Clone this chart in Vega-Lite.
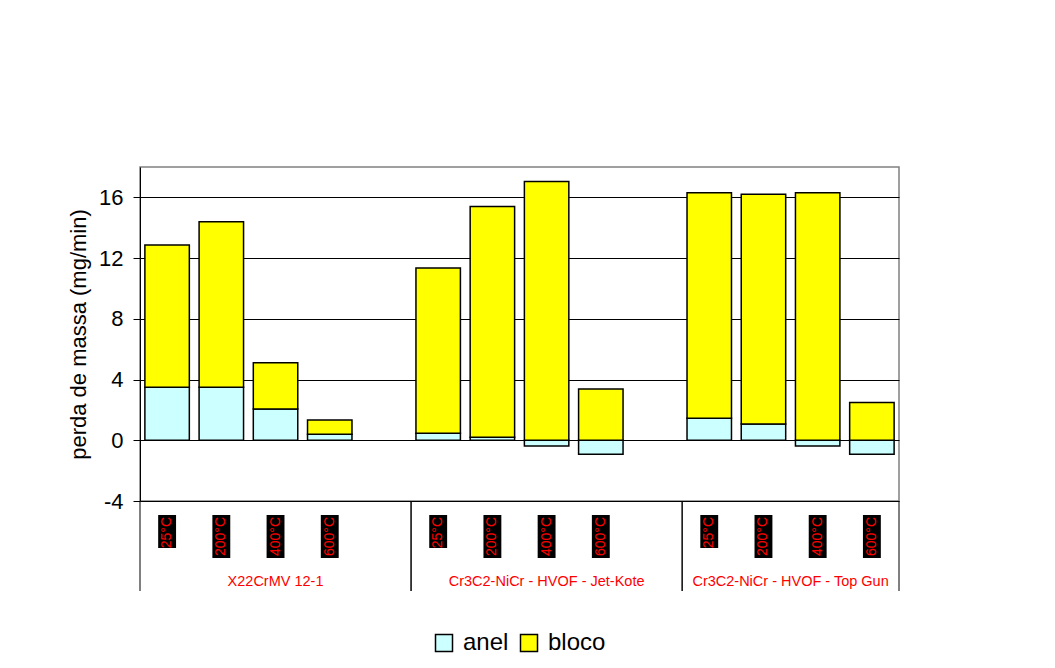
{
  "$schema": "https://vega.github.io/schema/vega-lite/v6.json",
  "background": "white",
  "padding": {"left": 66, "top": 166, "right": 10, "bottom": 5},
  "bounds": "flush",
  "config": {
    "font": "Liberation Sans",
    "view": {"stroke": null},
    "concat": {"spacing": 0}
  },
  "datasets": {
    "massa": [
      {"slot": "A25", "grupo": "X22CrMV 12-1", "temp": "25°C", "serie": "anel", "valor": 3.5},
      {"slot": "A25", "grupo": "X22CrMV 12-1", "temp": "25°C", "serie": "bloco", "valor": 9.37},
      {"slot": "A200", "grupo": "X22CrMV 12-1", "temp": "200°C", "serie": "anel", "valor": 3.5},
      {"slot": "A200", "grupo": "X22CrMV 12-1", "temp": "200°C", "serie": "bloco", "valor": 10.9},
      {"slot": "A400", "grupo": "X22CrMV 12-1", "temp": "400°C", "serie": "anel", "valor": 2.06},
      {"slot": "A400", "grupo": "X22CrMV 12-1", "temp": "400°C", "serie": "bloco", "valor": 3.05},
      {"slot": "A600", "grupo": "X22CrMV 12-1", "temp": "600°C", "serie": "anel", "valor": 0.4},
      {"slot": "A600", "grupo": "X22CrMV 12-1", "temp": "600°C", "serie": "bloco", "valor": 0.93},
      {"slot": "B25", "grupo": "Cr3C2-NiCr - HVOF - Jet-Kote", "temp": "25°C", "serie": "anel", "valor": 0.46},
      {"slot": "B25", "grupo": "Cr3C2-NiCr - HVOF - Jet-Kote", "temp": "25°C", "serie": "bloco", "valor": 10.89},
      {"slot": "B200", "grupo": "Cr3C2-NiCr - HVOF - Jet-Kote", "temp": "200°C", "serie": "anel", "valor": 0.2},
      {"slot": "B200", "grupo": "Cr3C2-NiCr - HVOF - Jet-Kote", "temp": "200°C", "serie": "bloco", "valor": 15.2},
      {"slot": "B400", "grupo": "Cr3C2-NiCr - HVOF - Jet-Kote", "temp": "400°C", "serie": "anel", "valor": -0.38},
      {"slot": "B400", "grupo": "Cr3C2-NiCr - HVOF - Jet-Kote", "temp": "400°C", "serie": "bloco", "valor": 17.05},
      {"slot": "B600", "grupo": "Cr3C2-NiCr - HVOF - Jet-Kote", "temp": "600°C", "serie": "anel", "valor": -0.92},
      {"slot": "B600", "grupo": "Cr3C2-NiCr - HVOF - Jet-Kote", "temp": "600°C", "serie": "bloco", "valor": 3.38},
      {"slot": "C25", "grupo": "Cr3C2-NiCr - HVOF - Top Gun", "temp": "25°C", "serie": "anel", "valor": 1.45},
      {"slot": "C25", "grupo": "Cr3C2-NiCr - HVOF - Top Gun", "temp": "25°C", "serie": "bloco", "valor": 14.86},
      {"slot": "C200", "grupo": "Cr3C2-NiCr - HVOF - Top Gun", "temp": "200°C", "serie": "anel", "valor": 1.08},
      {"slot": "C200", "grupo": "Cr3C2-NiCr - HVOF - Top Gun", "temp": "200°C", "serie": "bloco", "valor": 15.12},
      {"slot": "C400", "grupo": "Cr3C2-NiCr - HVOF - Top Gun", "temp": "400°C", "serie": "anel", "valor": -0.38},
      {"slot": "C400", "grupo": "Cr3C2-NiCr - HVOF - Top Gun", "temp": "400°C", "serie": "bloco", "valor": 16.3},
      {"slot": "C600", "grupo": "Cr3C2-NiCr - HVOF - Top Gun", "temp": "600°C", "serie": "anel", "valor": -0.92},
      {"slot": "C600", "grupo": "Cr3C2-NiCr - HVOF - Top Gun", "temp": "600°C", "serie": "bloco", "valor": 2.48}
    ],
    "grupos": [
      {"grupo": "X22CrMV 12-1", "inicio": "A25", "fim": "A_", "centro": "A400", "par": "impar"},
      {"grupo": "Cr3C2-NiCr - HVOF - Jet-Kote", "inicio": "B25", "fim": "B_", "centro": "B400", "par": "impar"},
      {"grupo": "Cr3C2-NiCr - HVOF - Top Gun", "inicio": "C25", "fim": "C600", "centro": "C400", "par": "par"}
    ]
  },
  "resolve": {"scale": {"x": "independent", "y": "independent"}},
  "vconcat": [
    {
      "width": 759,
      "height": 334,
      "view": {"stroke": "#808080", "strokeWidth": 1.5},
      "data": {"name": "massa"},
      "mark": {"type": "bar", "stroke": "black", "strokeWidth": 1.5},
      "encoding": {
        "x": {
          "field": "slot",
          "type": "nominal",
          "scale": {
            "type": "band",
            "domain": ["A25", "A200", "A400", "A600", "A_", "B25", "B200", "B400", "B600", "B_", "C25", "C200", "C400", "C600"],
            "paddingInner": 0.18,
            "paddingOuter": 0.09
          },
          "axis": null
        },
        "y": {
          "field": "valor",
          "type": "quantitative",
          "stack": "zero",
          "scale": {"domain": [-4, 18], "nice": false, "zero": false},
          "axis": {
            "values": [-4, 0, 4, 8, 12, 16],
            "labelExpr": "'' + datum.value",
            "title": "perda de massa (mg/min)",
            "titleFontSize": 22,
            "titleFontWeight": "normal",
            "titleColor": "black",
            "titlePadding": 8,
            "labelFontSize": 22,
            "labelColor": "black",
            "labelPadding": 10,
            "tickSize": 7,
            "tickColor": "black",
            "domainColor": "black",
            "gridColor": "black",
            "gridOpacity": 1,
            "gridWidth": 1
          }
        },
        "color": {
          "field": "serie",
          "type": "nominal",
          "scale": {"domain": ["anel", "bloco"], "range": ["#CCFFFF", "#FFFF00"]},
          "legend": {
            "title": null,
            "orient": "none",
            "direction": "horizontal",
            "legendX": 292,
            "legendY": 464,
            "symbolType": "square",
            "symbolSize": 289,
            "symbolStrokeColor": "black",
            "symbolStrokeWidth": 1.5,
            "symbolOpacity": 1,
            "labelFontSize": 24,
            "labelColor": "black",
            "labelOffset": 7,
            "columnPadding": 8
          }
        },
        "order": {"field": "serie", "sort": "ascending"}
      }
    },
    {
      "width": 759,
      "height": 90,
      "layer": [
        {
          "data": {"name": "massa"},
          "transform": [{"filter": "datum.serie == 'anel' && datum.temp == '25°C'"}],
          "mark": {"type": "bar", "color": "black", "width": {"band": 0.33}},
          "encoding": {
            "x": {
              "field": "slot",
              "type": "nominal",
              "scale": {
                "type": "band",
                "domain": ["A25", "A200", "A400", "A600", "A_", "B25", "B200", "B400", "B600", "B_", "C25", "C200", "C400", "C600"],
                "paddingInner": 0,
                "paddingOuter": 0
              },
              "axis": null
            },
            "y": {"value": 14},
            "y2": {"value": 47}
          }
        },
        {
          "data": {"name": "massa"},
          "transform": [{"filter": "datum.serie == 'anel' && datum.temp != '25°C'"}],
          "mark": {"type": "bar", "color": "black", "width": {"band": 0.33}},
          "encoding": {
            "x": {"field": "slot", "type": "nominal", "axis": null},
            "y": {"value": 14},
            "y2": {"value": 57}
          }
        },
        {
          "data": {"name": "massa"},
          "transform": [{"filter": "datum.serie == 'anel'"}],
          "mark": {"type": "text", "angle": 270, "align": "right", "baseline": "middle", "color": "#FF0000", "fontSize": 14},
          "encoding": {
            "x": {"field": "slot", "type": "nominal", "axis": null},
            "y": {"value": 16},
            "text": {"field": "temp"}
          }
        },
        {
          "data": {"name": "grupos"},
          "mark": {"type": "rule", "color": "black", "strokeWidth": 1},
          "encoding": {
            "x": {"field": "inicio", "type": "nominal", "bandPosition": 0, "axis": null}
          }
        },
        {
          "data": {"name": "grupos"},
          "mark": {"type": "rule", "color": "black", "strokeWidth": 1},
          "encoding": {
            "x": {"field": "fim", "type": "nominal", "bandPosition": 1, "axis": null}
          }
        },
        {
          "data": {"name": "grupos"},
          "transform": [{"filter": "datum.par == 'impar'"}],
          "mark": {"type": "text", "color": "#FF0000", "fontSize": 14.5, "baseline": "middle", "align": "center"},
          "encoding": {
            "x": {"field": "centro", "type": "nominal", "bandPosition": 0.5, "axis": null},
            "y": {"value": 81},
            "text": {"field": "grupo"}
          }
        },
        {
          "data": {"name": "grupos"},
          "transform": [{"filter": "datum.par == 'par'"}],
          "mark": {"type": "text", "color": "#FF0000", "fontSize": 14.5, "baseline": "middle", "align": "center"},
          "encoding": {
            "x": {"field": "centro", "type": "nominal", "bandPosition": 0, "axis": null},
            "y": {"value": 81},
            "text": {"field": "grupo"}
          }
        }
      ]
    }
  ]
}
